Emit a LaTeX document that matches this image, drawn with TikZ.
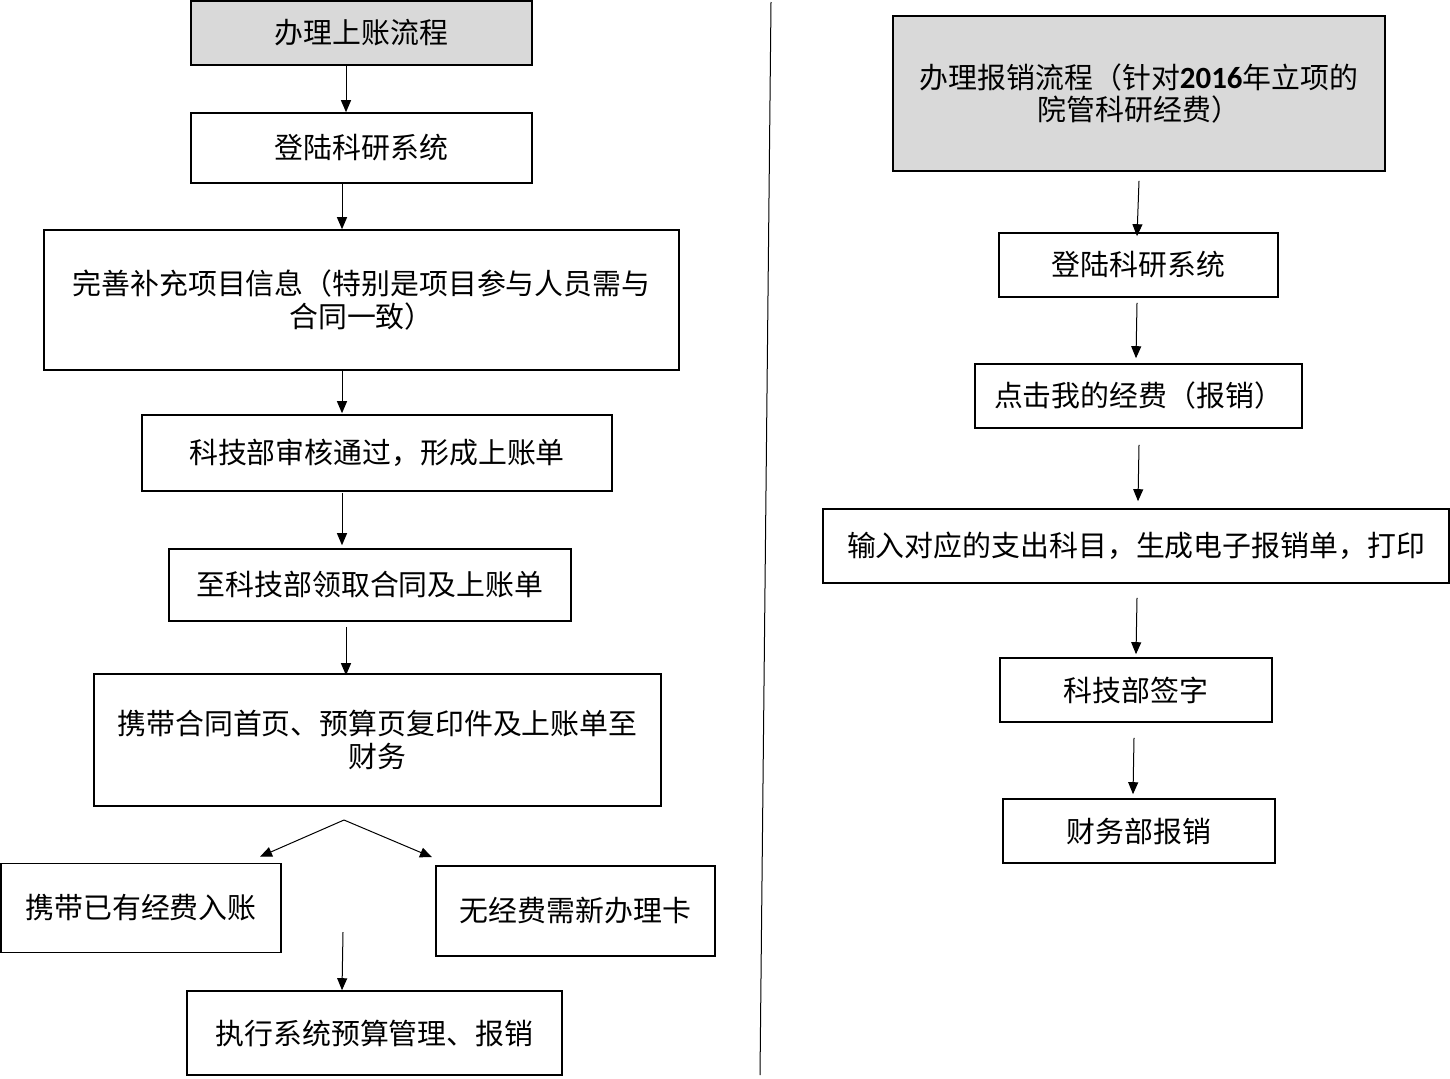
\documentclass[tikz,border=0pt]{standalone}
\usepackage{fontspec}
\setmainfont{Noto Sans CJK SC}
\newfontfamily\numfont{Carlito}
\usetikzlibrary{arrows.meta}
\tikzset{
    box/.style={draw, line width=1.6bp, align=center, inner sep=0pt,
        font=\fontsize{29}{33}\selectfont},
    headbox/.style={box, fill=black!15},
    flow/.style={-{Triangle[width=10bp,length=12bp]}, line width=1bp},
}
\begin{document}
\begin{tikzpicture}[x=1bp, y=-1bp]
    \useasboundingbox (0,0) rectangle (1450,1078);
    % left column
    \node[headbox, minimum width=341bp, minimum height=64bp] (A1) at (361.5,33) {办理上账流程};
    \node[box, minimum width=341bp, minimum height=70bp] (A2) at (361.5,148) {登陆科研系统};
    \node[box, minimum width=635bp, minimum height=140bp] (A3) at (361.5,300) {完善补充项目信息（特别是项目参与人员需与\\合同一致）};
    \node[box, minimum width=470bp, minimum height=76bp] (A4) at (377,453) {科技部审核通过，形成上账单};
    \node[box, minimum width=402bp, minimum height=72bp] (A5) at (370,585) {至科技部领取合同及上账单};
    \node[box, minimum width=567bp, minimum height=132bp] (A6) at (377.5,740) {携带合同首页、预算页复印件及上账单至\\财务};
    \node[box, minimum width=280bp, minimum height=89bp] (A7) at (141,908) {携带已有经费入账};
    \node[box, minimum width=279bp, minimum height=90bp] (A8) at (575.5,911) {无经费需新办理卡};
    \node[box, minimum width=375bp, minimum height=84bp] (A9) at (374.5,1033) {执行系统预算管理、报销};
    \coordinate (split) at (344,820);
    \coordinate (join) at (343,932);
    \draw[flow] (A1.south -| 346,0) -- (A2.north -| 346,0);
    \draw[flow] (A2.south -| 342,0) -- (A3.north -| 342,0);
    \draw[flow] (A3.south -| 342,0) -- ([yshift=1bp]A4.north -| 342,0);
    \draw[flow] ([yshift=-1bp]A4.south -| 342,0) -- ([yshift=3bp]A5.north -| 342,0);
    \draw[flow] ([yshift=-5bp]A5.south -| 346,0) -- ([yshift=-2bp]A6.north -| 346,0);
    \draw[flow] (split) -- ([yshift=6bp]A7.north -| 260,0);
    \draw[flow] (split) -- ([yshift=8bp]A8.north -| 432,0);
    \draw[flow] (join) -- (A9.north -| 342,0);
    % right column
    \node[headbox, minimum width=492bp, minimum height=155bp] (B1) at (1139,93.5) {办理报销流程（针对{\numfont\bfseries\fontsize{31}{33}\selectfont 2016}年立项的\\院管科研经费）};
    \node[box, minimum width=279bp, minimum height=64bp] (B2) at (1138.5,265) {登陆科研系统};
    \node[box, minimum width=327bp, minimum height=64bp] (B3) at (1138.5,396) {点击我的经费（报销）};
    \node[box, minimum width=626bp, minimum height=74bp] (B4) at (1136,546) {输入对应的支出科目，生成电子报销单，打印};
    \node[box, minimum width=272bp, minimum height=64bp] (B5) at (1136,690) {科技部签字};
    \node[box, minimum width=272bp, minimum height=64bp] (B6) at (1139,831) {财务部报销};
    \draw[flow] ([yshift=-9bp]B1.south) -- ([yshift=-4bp]B2.north -| 1137,0);
    \draw[flow] ([xshift=-1.5bp,yshift=-5bp]B2.south) -- ([yshift=5bp]B3.north -| 1136,0);
    \draw[flow] ([xshift=0.5bp,yshift=-16bp]B3.south) -- ([yshift=7bp]B4.north -| 1138,0);
    \draw[flow] ([xshift=1bp,yshift=-14bp]B4.south) -- ([yshift=3bp]B5.north);
    \draw[flow] ([xshift=-2bp,yshift=-15bp]B5.south) -- ([yshift=4bp]B6.north -| 1133,0);
    % divider
    \coordinate (top) at (771,2);
    \coordinate (bottom) at (760,1075);
    \draw[line width=1bp] (top) -- (bottom);
\end{tikzpicture}
\end{document}
